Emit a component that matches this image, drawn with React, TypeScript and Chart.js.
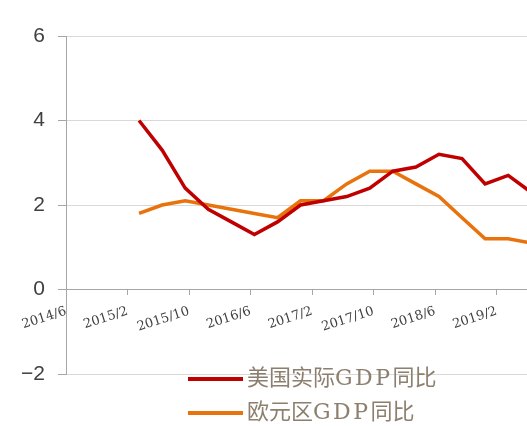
import React, { useEffect, useRef } from "react";
import { Chart, registerables } from "chart.js";

Chart.register(...registerables);

const quarters = [
  "2015/3", "2015/6", "2015/9", "2015/12",
  "2016/3", "2016/6", "2016/9", "2016/12",
  "2017/3", "2017/6", "2017/9", "2017/12",
  "2018/3", "2018/6", "2018/9", "2018/12",
  "2019/3", "2019/6",
];
const usGdp = [4.0, 3.3, 2.4, 1.9, 1.6, 1.3, 1.6, 2.0, 2.1, 2.2, 2.4, 2.8, 2.9, 3.2, 3.1, 2.5, 2.7, 2.3];
const euGdp = [1.8, 2.0, 2.1, 2.0, 1.9, 1.8, 1.7, 2.1, 2.1, 2.5, 2.8, 2.8, 2.5, 2.2, 1.7, 1.2, 1.2, 1.1];
const seriesNames = ["美国实际GDP同比", "欧元区GDP同比"];
const seriesColors = ["#C00000", "#E8720C"];
const yTicks = [-2, 0, 2, 4, 6];
const xTickLabels = ["2014/6", "2015/2", "2015/10", "2016/6", "2017/2", "2017/10", "2018/6", "2019/2"];

// month offset from the axis origin (2014/6); points sit mid-month
const toMonth = (s: string) => {
  const [y, m] = s.split("/").map(Number);
  return (y - 2014) * 12 + (m - 6);
};

export default function App() {
  const ref = useRef<HTMLCanvasElement>(null);
  useEffect(() => {
    const ctx = ref.current!;
    const mk = (vals: number[]) => quarters.map((q, i) => ({ x: toMonth(q) + 0.5, y: vals[i] }));
    const chart = new Chart(ctx, {
      type: "line",
      data: {
        datasets: [
          { label: seriesNames[0], data: mk(usGdp), borderColor: seriesColors[0], backgroundColor: seriesColors[0], borderWidth: 3.5, pointRadius: 0, tension: 0 },
          { label: seriesNames[1], data: mk(euGdp), borderColor: seriesColors[1], backgroundColor: seriesColors[1], borderWidth: 3.5, pointRadius: 0, tension: 0 },
        ],
      },
      options: {
        responsive: false,
        animation: false,
        layout: { padding: { top: 36, bottom: 52, left: 0, right: 0 } },
        plugins: { legend: { display: false }, tooltip: { enabled: false } },
        scales: {
          x: {
            type: "linear",
            position: { y: 0 } as any,
            min: 0,
            max: (527 - 66) / 7.69,
            afterBuildTicks: (s: any) => {
              s.ticks = xTickLabels.map((l) => ({ value: toMonth(l) }));
            },
            afterFit: (s: any) => {
              s.paddingLeft = 0;
              s.paddingRight = 0;
            },
            ticks: {
              autoSkip: false,
              minRotation: 18,
              maxRotation: 18,
              padding: 9,
              color: "#404040",
              font: { family: "DejaVu Serif", size: 13 },
              callback: (v: any) => {
                const i = xTickLabels.findIndex((l) => toMonth(l) === v);
                return i >= 0 ? xTickLabels[i] : "";
              },
            },
            grid: { display: true, drawOnChartArea: false, drawTicks: true, tickLength: 5, tickColor: "#A6A6A6" },
            border: { display: true, color: "#A6A6A6", width: 1 },
          },
          y: {
            min: -2,
            max: 6,
            afterBuildTicks: (s: any) => {
              s.ticks = yTicks.map((v) => ({ value: v }));
            },
            afterFit: (s: any) => {
              s.width = 66;
            },
            ticks: {
              padding: 13,
              color: "#404040",
              font: { family: "Liberation Sans", size: 21 },
              callback: (v: any) => (v < 0 ? "\u2212" + Math.abs(v) : String(v)),
            },
            grid: { color: "#D9D9D9", lineWidth: 1, drawTicks: true, tickLength: 8, tickColor: "#A6A6A6" },
            border: { display: true, color: "#A6A6A6", width: 1 },
          },
        },
      },
    });
    return () => chart.destroy();
  }, []);

  const legendText: React.CSSProperties = {
    position: "absolute",
    left: 247,
    fontFamily: '"DejaVu Serif", "Noto Sans CJK SC", serif',
    fontSize: 22,
    lineHeight: "24px",
    color: "#8C7F6E",
    whiteSpace: "nowrap",
    letterSpacing: 0,
  };
  const gdpSpan: React.CSSProperties = { letterSpacing: 2.5 };
  const renderName = (name: string) => {
    const i = name.indexOf("GDP");
    return (
      <>
        {name.slice(0, i)}
        <span style={gdpSpan}>GDP</span>
        {name.slice(i + 3)}
      </>
    );
  };

  return (
    <div style={{ position: "fixed", left: 0, top: 0, width: 527, height: 426, background: "#fff", overflow: "hidden" }}>
      <canvas ref={ref} width={527} height={426} style={{ display: "block", width: 527, height: 426 }} />
      <div style={{ position: "absolute", left: 188, top: 377, width: 55, height: 3.5, background: seriesColors[0] }} />
      <div style={{ ...legendText, top: 366 }}>{renderName(seriesNames[0])}</div>
      <div style={{ position: "absolute", left: 188, top: 411, width: 55, height: 3.5, background: seriesColors[1] }} />
      <div style={{ ...legendText, top: 400 }}>{renderName(seriesNames[1])}</div>
    </div>
  );
}
